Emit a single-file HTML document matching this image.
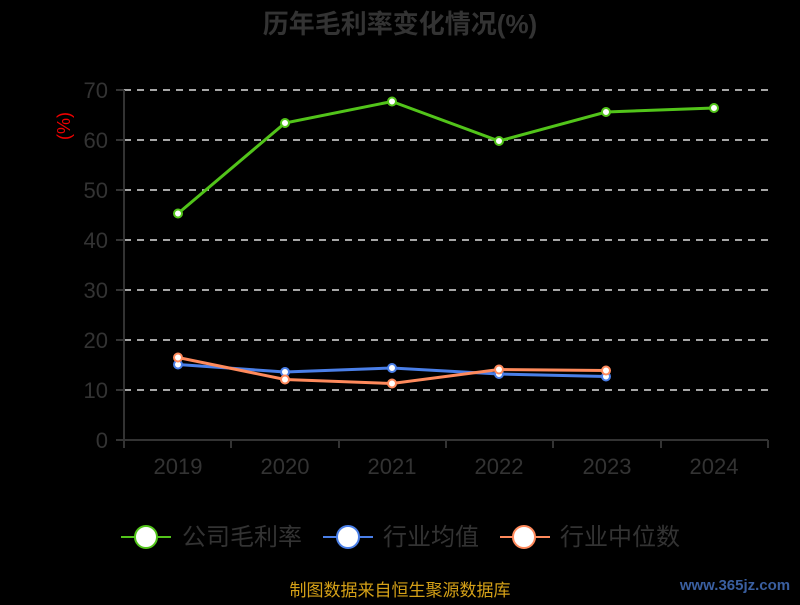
<!DOCTYPE html>
<html><head><meta charset="utf-8"><style>
body{margin:0;background:#000;width:800px;height:600px;overflow:hidden}
text{font-family:"Liberation Sans","Noto Sans CJK SC",sans-serif}
</style></head><body>
<svg width="800" height="600" xmlns="http://www.w3.org/2000/svg">
<rect width="800" height="600" fill="#000"/>
<text x="400" y="33" text-anchor="middle" font-size="26" font-weight="bold" fill="#333">历年毛利率变化情况(%)</text>
<g stroke="#ddd" stroke-width="1.5" stroke-dasharray="7,6">
<line x1="124" x2="768" y1="90" y2="90"/><line x1="124" x2="768" y1="140" y2="140"/>
<line x1="124" x2="768" y1="190" y2="190"/><line x1="124" x2="768" y1="240" y2="240"/>
<line x1="124" x2="768" y1="290" y2="290"/><line x1="124" x2="768" y1="340" y2="340"/>
<line x1="124" x2="768" y1="390" y2="390"/>
</g>
<g stroke="#333" stroke-width="2" fill="none">
<line x1="124" y1="90" x2="124" y2="440"/>
<line x1="116" y1="90" x2="124" y2="90"/><line x1="116" y1="140" x2="124" y2="140"/><line x1="116" y1="190" x2="124" y2="190"/><line x1="116" y1="240" x2="124" y2="240"/><line x1="116" y1="290" x2="124" y2="290"/><line x1="116" y1="340" x2="124" y2="340"/><line x1="116" y1="390" x2="124" y2="390"/><line x1="116" y1="440" x2="124" y2="440"/>
<line x1="124" y1="440" x2="768" y2="440"/>
<line x1="124" y1="440" x2="124" y2="448"/><line x1="231" y1="440" x2="231" y2="448"/><line x1="339" y1="440" x2="339" y2="448"/><line x1="446" y1="440" x2="446" y2="448"/><line x1="553" y1="440" x2="553" y2="448"/><line x1="661" y1="440" x2="661" y2="448"/><line x1="768" y1="440" x2="768" y2="448"/>
</g>
<g font-size="22" fill="#333" text-anchor="end">
<text x="108" y="98">70</text><text x="108" y="148">60</text><text x="108" y="198">50</text><text x="108" y="248">40</text><text x="108" y="298">30</text><text x="108" y="348">20</text><text x="108" y="398">10</text><text x="108" y="448">0</text>
</g>
<g font-size="22" fill="#333" text-anchor="middle">
<text x="178" y="474">2019</text><text x="285" y="474">2020</text><text x="392" y="474">2021</text><text x="499" y="474">2022</text><text x="607" y="474">2023</text><text x="714" y="474">2024</text>
</g>
<text x="70" y="126" font-size="18" fill="#e00" text-anchor="middle" transform="rotate(-90 70 126)">(%)</text>
<polyline points="178,213.5 285,123 392,101.5 499,141 606,112 714,108" fill="none" stroke="#52c41a" stroke-width="3"/>
<polyline points="178,364.5 285,372 392,368 499,374 606,376.5" fill="none" stroke="#4a7fe8" stroke-width="3"/>
<polyline points="178,357.5 285,379.5 392,383.5 499,369.5 606,370.5" fill="none" stroke="#ff8a5c" stroke-width="3"/>
<g fill="#fff" stroke="#52c41a" stroke-width="2">
<circle cx="178" cy="213.5" r="4"/><circle cx="285" cy="123" r="4"/><circle cx="392" cy="101.5" r="4"/><circle cx="499" cy="141" r="4"/><circle cx="606" cy="112" r="4"/><circle cx="714" cy="108" r="4"/>
</g>
<g fill="#fff" stroke="#4a7fe8" stroke-width="2">
<circle cx="178" cy="364.5" r="4"/><circle cx="285" cy="372" r="4"/><circle cx="392" cy="368" r="4"/><circle cx="499" cy="374" r="4"/><circle cx="606" cy="376.5" r="4"/>
</g>
<g fill="#fff" stroke="#ff8a5c" stroke-width="2">
<circle cx="178" cy="357.5" r="4"/><circle cx="285" cy="379.5" r="4"/><circle cx="392" cy="383.5" r="4"/><circle cx="499" cy="369.5" r="4"/><circle cx="606" cy="370.5" r="4"/>
</g>
<g font-size="24" fill="#333">
<line x1="121" y1="537" x2="171" y2="537" stroke="#52c41a" stroke-width="2"/><circle cx="146" cy="537" r="11" fill="#fff" stroke="#52c41a" stroke-width="2"/>
<text x="182" y="545">公司毛利率</text>
<line x1="323" y1="537" x2="373" y2="537" stroke="#4a7fe8" stroke-width="2"/><circle cx="348" cy="537" r="11" fill="#fff" stroke="#4a7fe8" stroke-width="2"/>
<text x="383" y="545">行业均值</text>
<line x1="500" y1="537" x2="550" y2="537" stroke="#ff8a5c" stroke-width="2"/><circle cx="524" cy="537" r="11" fill="#fff" stroke="#ff8a5c" stroke-width="2"/>
<text x="560" y="545">行业中位数</text>
</g>
<text x="400" y="596" font-size="17" fill="#d4a017" text-anchor="middle">制图数据来自恒生聚源数据库</text>
<text x="735" y="590" font-size="15" font-weight="bold" fill="#3a5fa0" text-anchor="middle">www.365jz.com</text>
</svg>
</body></html>
